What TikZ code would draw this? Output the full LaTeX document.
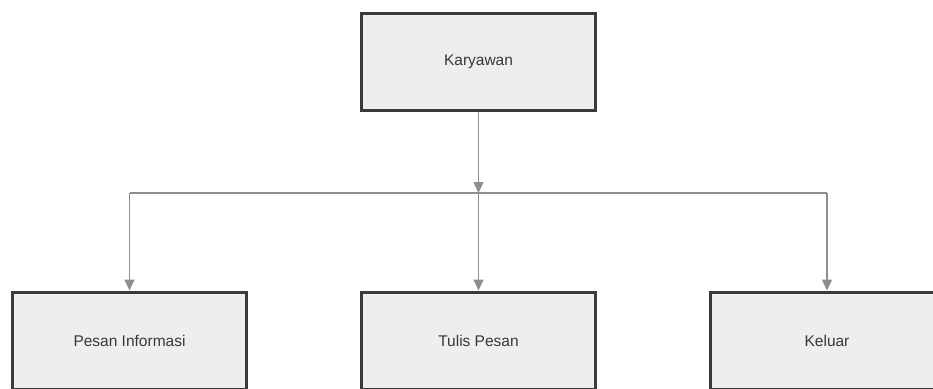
\documentclass[tikz,border=0pt]{standalone}
\usepackage{fontspec}
\setmainfont{Liberation Sans}
\usetikzlibrary{arrows.meta}
\definecolor{boxfill}{HTML}{EEEEEE}
\definecolor{boxline}{HTML}{3A3A3A}
\definecolor{conn}{HTML}{8E8E8E}
\definecolor{txt}{HTML}{383838}
\tikzset{
  box/.style={draw=boxline, line width=3pt, fill=boxfill, minimum width=234pt, minimum height=97pt,
    inner sep=0pt, text=txt, font=\fontsize{15.5}{17}\selectfont},
  conn/.style={draw=conn, line width=1.5pt, -{Triangle[length=11pt,width=10pt]}},
  plain/.style={draw=conn, line width=1.5pt}
}
\begin{document}
\begin{tikzpicture}[x=1pt,y=-1pt]
\useasboundingbox (0,0) rectangle (933,388);
\begin{scope}
\clip (0,0) rectangle (933,388);
\node[box] (kar) at (478.5,62) {Karyawan};
\node[box] (pes) at (129.5,340.5) {Pesan Informasi};
\node[box] (tul) at (478.5,340.5) {Tulis Pesan};
\node[box] (kel) at (827,340.5) {Keluar};
\coordinate (j) at (478.5,193);
\coordinate (jl) at (129.5,193);
\coordinate (jr) at (827,193);
\draw[conn] (kar.south) -- (j);
\draw[plain] (jl) -- (jr);
\draw[conn] (jl) -- (pes.north);
\draw[conn] (j) -- (tul.north);
\draw[conn] (jr) -- (kel.north);
\end{scope}
\end{tikzpicture}
\end{document}
